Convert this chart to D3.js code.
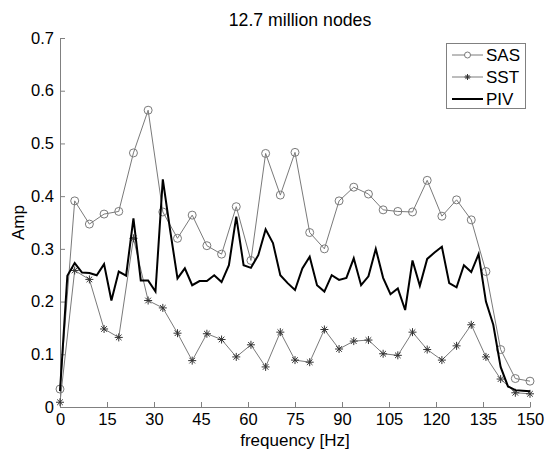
<!DOCTYPE html>
<html><head><meta charset="utf-8">
<script src="https://cdn.jsdelivr.net/npm/d3@7"></script>
<style>body{margin:0;background:#fff}svg{display:block}text{font-family:"Liberation Sans",Arial,sans-serif;fill:#000}</style>
</head><body>
<svg id="c" width="545" height="451"></svg>
<script>
const title = "12.7 million nodes";
const xLabel = "frequency [Hz]";
const yLabel = "Amp";
const seriesNames = ["SAS", "SST", "PIV"];
const xTicks = [0, 15, 30, 45, 60, 75, 90, 105, 120, 135, 150];
const yTicks = [0, 0.1, 0.2, 0.3, 0.4, 0.5, 0.6, 0.7];
const sasValues = [0.034,0.391,0.347,0.366,0.371,0.482,0.563,0.370,0.320,0.364,0.306,0.290,0.380,0.278,0.481,0.402,0.483,0.331,0.300,0.391,0.417,0.404,0.374,0.371,0.370,0.430,0.362,0.393,0.355,0.257,0.109,0.054,0.049];
const sstValues = [0.009,0.259,0.242,0.148,0.132,0.320,0.202,0.188,0.140,0.088,0.139,0.128,0.095,0.118,0.076,0.142,0.089,0.085,0.147,0.110,0.125,0.127,0.101,0.098,0.142,0.109,0.089,0.116,0.156,0.095,0.053,0.027,0.025];
const pivValues = [0.030,0.249,0.273,0.255,0.254,0.250,0.271,0.202,0.257,0.249,0.358,0.240,0.240,0.219,0.432,0.335,0.244,0.263,0.231,0.239,0.239,0.250,0.237,0.269,0.361,0.269,0.264,0.288,0.337,0.311,0.250,0.235,0.222,0.263,0.285,0.231,0.219,0.250,0.241,0.245,0.282,0.231,0.248,0.300,0.245,0.214,0.225,0.184,0.278,0.230,0.281,0.293,0.304,0.235,0.227,0.269,0.256,0.290,0.200,0.156,0.076,0.039,0.032,0.031,0.030];
const xMax = 150;
const sasX = sasValues.map((v,i)=>i*xMax/(sasValues.length-1));
const sstX = sstValues.map((v,i)=>i*xMax/(sstValues.length-1));
const pivX = pivValues.map((v,i)=>i*xMax/(pivValues.length-1));

const svg = d3.select("#c");
const L = 60, R = 530, T = 38, B = 407;
const x = d3.scaleLinear().domain([0,150]).range([L,R]);
const y = d3.scaleLinear().domain([0,0.7]).range([B,T]);
const axisCol = "#808080";

const xa = svg.append("g").attr("transform",`translate(0,${B})`)
  .call(d3.axisBottom(x).tickValues(xTicks).tickSizeInner(-5).tickSizeOuter(0).tickPadding(6).tickFormat(d3.format("d")));
const ya = svg.append("g").attr("transform",`translate(${L},0)`)
  .call(d3.axisLeft(y).tickValues(yTicks).tickSizeInner(-5).tickSizeOuter(0).tickPadding(6).tickFormat(d=>d===0?"0":d3.format(".1f")(d)));
[xa,ya].forEach(g=>{
  g.select(".domain").attr("stroke",axisCol);
  g.selectAll(".tick line").attr("stroke",axisCol);
  g.selectAll("text").attr("font-size",16.5).attr("fill","#000").attr("font-family",'"Liberation Sans",Arial,sans-serif');
});

const line = d3.line().x(d=>x(d[0])).y(d=>y(d[1]));
const sasData = sasX.map((xx,i)=>[xx,sasValues[i]]);
const sstData = sstX.map((xx,i)=>[xx,sstValues[i]]);
const pivData = pivX.map((xx,i)=>[xx,pivValues[i]]);

const grey = "#7a7a7a";
svg.append("path").datum(sasData).attr("d",line).attr("fill","none").attr("stroke",grey).attr("stroke-width",1);
svg.append("path").datum(sstData).attr("d",line).attr("fill","none").attr("stroke",grey).attr("stroke-width",1);

const star = r => `M${-r},0H${r}M0,${-r}V${r}M${-r*0.7},${-r*0.7}L${r*0.7},${r*0.7}M${-r*0.7},${r*0.7}L${r*0.7},${-r*0.7}`;
svg.append("g").selectAll("circle").data(sasData).join("circle")
  .attr("cx",d=>x(d[0])).attr("cy",d=>y(d[1])).attr("r",4)
  .attr("fill","none").attr("stroke",grey).attr("stroke-width",1);
svg.append("g").selectAll("path").data(sstData).join("path")
  .attr("transform",d=>`translate(${x(d[0])},${y(d[1])})`).attr("d",star(4))
  .attr("fill","none").attr("stroke","#333").attr("stroke-width",1);

svg.append("path").datum(pivData).attr("d",line).attr("fill","none").attr("stroke","#000").attr("stroke-width",2).attr("stroke-linejoin","miter");

svg.append("text").attr("x",300).attr("y",26).attr("text-anchor","middle").attr("font-size",17.7).text(title);
svg.append("text").attr("x",(L+R)/2).attr("y",446).attr("text-anchor","middle").attr("font-size",17).text(xLabel);
svg.append("text").attr("transform",`translate(24,${(T+B)/2}) rotate(-90)`).attr("text-anchor","middle").attr("font-size",17).text(yLabel);

const lg = svg.append("g");
lg.append("rect").attr("x",446.5).attr("y",43.5).attr("width",79).attr("height",65).attr("fill","#fff").attr("stroke",axisCol);
const rows = [55,77,99];
seriesNames.forEach((n,i)=>{
  const yy = rows[i];
  lg.append("line").attr("x1",452).attr("x2",483).attr("y1",yy).attr("y2",yy)
    .attr("stroke", i===2?"#000":grey).attr("stroke-width", i===2?2:1);
  if(i===0) lg.append("circle").attr("cx",467.5).attr("cy",yy).attr("r",3).attr("fill","#fff").attr("stroke",grey);
  if(i===1) lg.append("path").attr("transform",`translate(467.5,${yy})`).attr("d",star(3)).attr("stroke","#333").attr("fill","none");
  lg.append("text").attr("x",486).attr("y",yy+6).attr("font-size",17).text(n);
});
</script>
</body></html>
